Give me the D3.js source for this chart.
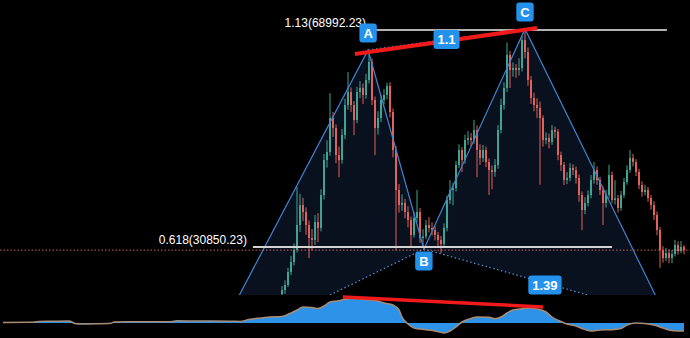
<!DOCTYPE html>
<html>
<head>
<meta charset="utf-8">
<script src="https://cdn.jsdelivr.net/npm/d3@7"></script>
<style>
  body { margin: 0; background: #000; }
  svg { display: block; }
</style>
</head>
<body>
<svg id="chart"></svg>
<script>
// prices in thousands of USD, one candle per bar starting at firstCandleBar
const firstCandleBar = 93;
const firstOpen = 22.6;
const closes = [
  23.29, 24.17, 26.46, 28.21, 30.32, 34.72, 38.23, 37.0, 34.72, 32.43,
  32.08, 35.24, 34.19, 39.99, 46.14, 47.55, 53.52, 51.77, 47.02, 46.14,
  50.54, 55.81, 58.09, 55.81, 53.17, 58.09, 58.8, 57.57, 60.2, 63.37,
  56.69, 51.77, 53.52, 56.69, 57.57, 59.15, 54.58, 47.9, 40.87, 38.23,
  38.6, 37.0, 35.6, 32.96, 35.95, 37.0, 32.43, 32.7, 34.72, 34.19,
  33.84, 32.96, 32.08, 31.38, 34.19, 39.11, 40.87, 41.22, 45.26, 47.9,
  46.14, 49.66, 50.01, 49.66, 51.42, 47.9, 46.49, 47.9, 45.79, 44.38,
  44.03, 45.26, 51.42, 55.81, 58.8, 64.6, 61.96, 62.31, 61.96, 62.31,
  67.23, 65.13, 60.2, 57.04, 55.81, 55.28, 53.52, 49.66, 50.01, 49.31,
  51.42, 51.1, 47.02, 45.26, 42.63, 42.98, 44.74, 44.38, 42.98, 39.99,
  37.35, 38.58, 39.99, 42.63, 44.38, 42.63, 40.87, 38.58, 39.99, 43.51,
  39.11, 39.4, 37.71, 39.99, 42.28, 44.38, 46.49, 45.79, 44.03, 41.75,
  40.52, 40.87, 39.46, 38.23, 36.47, 33.84, 30.32, 28.92, 29.8, 28.92,
  29.62, 31.2, 30.15, 30.85, 30.3
];
const highs = [
  24.0, 25.0, 27.2, 29.3, 31.5, 41.4, 40.2, 39.5, 37.8, 35.5,
  34.0, 36.5, 36.8, 41.0, 47.2, 49.6, 57.9, 54.6, 52.4, 48.5,
  51.6, 56.9, 61.6, 58.9, 56.5, 59.0, 60.0, 59.6, 61.3, 65.5,
  64.0, 57.3, 54.7, 57.6, 58.6, 59.7, 59.8, 55.2, 48.6, 41.9,
  40.1, 39.3, 38.0, 36.2, 37.0, 40.9, 37.7, 34.0, 35.6, 36.1,
  35.2, 34.6, 33.5, 32.8, 35.0, 39.9, 42.6, 42.1, 46.0, 48.9,
  48.4, 50.6, 51.2, 50.9, 53.2, 52.2, 48.9, 48.8, 48.5, 46.4,
  45.2, 46.3, 52.3, 56.9, 59.8, 66.8, 65.3, 63.3, 63.0, 64.0,
  68.0, 69.0, 65.9, 60.9, 58.0, 57.0, 56.4, 54.0, 51.0, 50.8,
  52.3, 52.0, 51.6, 47.6, 45.8, 44.0, 45.6, 45.4, 45.0, 43.6,
  40.6, 39.6, 40.8, 43.5, 45.8, 45.0, 43.2, 41.5, 40.9, 45.3,
  44.1, 42.6, 40.0, 40.7, 43.0, 45.2, 47.9, 47.2, 46.3, 44.6,
  42.4, 41.8, 41.4, 40.0, 38.9, 37.1, 34.4, 31.0, 30.7, 30.4,
  30.3, 32.1, 31.8, 31.9, 31.2
];
const lows = [
  21.9, 22.6, 23.8, 25.9, 27.6, 29.9, 33.5, 35.4, 33.0, 28.9,
  30.3, 31.2, 31.7, 33.6, 39.2, 44.8, 46.9, 50.2, 45.6, 43.1,
  45.5, 49.8, 55.0, 54.6, 50.5, 52.6, 57.0, 56.0, 56.9, 59.6,
  55.8, 47.0, 50.6, 52.8, 55.9, 56.8, 53.6, 46.6, 30.3, 36.9,
  37.2, 35.9, 34.3, 30.7, 32.5, 35.2, 31.6, 30.7, 32.2, 33.4,
  32.9, 32.0, 31.0, 29.8, 30.8, 33.6, 38.4, 38.2, 40.6, 44.7,
  44.0, 45.5, 48.8, 48.6, 49.0, 43.1, 45.3, 45.8, 44.9, 40.0,
  41.0, 43.2, 44.6, 50.8, 55.0, 58.1, 58.8, 60.8, 60.6, 61.0,
  61.7, 64.0, 59.2, 56.0, 54.7, 53.5, 41.8, 48.5, 48.9, 48.2,
  48.8, 50.0, 46.1, 44.2, 41.75, 41.9, 42.4, 43.5, 42.0, 38.8,
  33.8, 36.6, 38.0, 39.4, 42.0, 41.8, 40.0, 34.7, 37.8, 39.4,
  38.5, 38.3, 36.9, 37.2, 39.5, 41.8, 43.9, 45.0, 43.3, 41.0,
  39.7, 39.9, 38.8, 37.4, 35.6, 32.9, 27.2, 28.1, 28.4, 28.0,
  28.0, 29.2, 29.5, 29.8, 29.6
];

// lower oscillator pane
const oscBars = [
  0, 9, 12, 16, 22, 24, 26, 31, 36, 37, 42, 56, 58, 62, 76, 79, 82, 86, 89, 93,
  96, 98, 100, 103, 105, 107, 109, 112, 114, 116, 119, 122, 125, 127, 130, 132, 133, 135, 137, 141,
  144, 147, 149, 151, 153, 156, 158, 162, 164, 166, 168, 170, 173, 176, 178, 181, 183, 186, 188, 191,
  193, 196, 199, 203, 206, 208, 211, 214, 217, 220, 222, 225, 227
];
const oscValues = [
  50, 70, 150, 170, 200, -50, -100, -80, -30, 100, 130, 130, 220, 200, 180, 150, 350, 500, 600, 650,
  1000, 1300, 1600, 1550, 1450, 1700, 2100, 2230, 2370, 2450, 2400, 2300, 2200, 2000, 1800, 1300, 600, -100, -500, -670,
  -800, -1000, -800, -400, 100, 450, 600, 570, 430, 600, 1000, 1300, 1430, 1500, 1400, 1100, 600, 150, -100, -300,
  -550, -800, -700, -670, -550, -200, 0, -50, -200, -500, -700, -800, -800
];

// XABCD pattern (X and D sit below the visible pane)
const patternNames = ["X", "A", "B", "C", "D"];
const patternBars = [68.3, 121.7, 140.3, 174, 221];
const patternPrices = [11.87, 65.48, 30.5, 69.17, 18.55];
const ratioLabels = ["1.1", "1.39"]; // on A-C and B-D

// fib levels
const fibNames = ["0.618", "1.13"];
const fibPrices = [30850.23, 68992.23];
const fibStartBars = [83.3, 123];
const fibEndBars = [203, 221.3];

// hand drawn red lines
const trendBars = [117.3, 178];
const trendPrices = [64.77, 69.34];
const divBars = [113.3, 180];
const divValues = [2600, 1600];

const width = 690;
const height = 338;
const paneBottom = 295;

const svg = d3.select("#chart").attr("width", width).attr("height", height);
svg.append("rect").attr("width", width).attr("height", height).attr("fill", "#000");

const xScale = d3.scaleLinear().domain([0, 227]).range([3, 684]);
const yScale = d3.scaleLinear().domain([30.85023, 68.99223]).range([247, 30]);
const oscScale = d3.scaleLinear().domain([-1000, 1000]).range([333, 313]);

svg.append("clipPath").attr("id", "mainClip")
  .append("rect").attr("x", 0).attr("y", 0).attr("width", width).attr("height", paneBottom);

const main = svg.append("g").attr("clip-path", "url(#mainClip)");

const pts = patternBars.map(function (b, i) {
  return [xScale(b), yScale(patternPrices[i])];
});

// filled triangles XAB and BCD
main.append("path")
  .attr("d", "M" + [pts[0], pts[1], pts[2]].join("L") + "Z")
  .attr("fill", "#0a111e");
main.append("path")
  .attr("d", "M" + [pts[2], pts[3], pts[4]].join("L") + "Z")
  .attr("fill", "#0a111e");

// candles
const candles = closes.map(function (c, i) {
  return {
    bar: firstCandleBar + i,
    open: i === 0 ? firstOpen : closes[i - 1],
    high: highs[i],
    low: lows[i],
    close: c
  };
});

const candleG = main.selectAll(".candle").data(candles).enter().append("g").attr("class", "candle");
candleG.append("line")
  .attr("x1", function (d) { return xScale(d.bar); })
  .attr("x2", function (d) { return xScale(d.bar); })
  .attr("y1", function (d) { return yScale(d.high); })
  .attr("y2", function (d) { return yScale(d.low); })
  .attr("stroke", function (d) { return d.close >= d.open ? "#3fa592" : "#e0625d"; })
  .attr("stroke-width", 1);
candleG.append("rect")
  .attr("x", function (d) { return xScale(d.bar) - 1; })
  .attr("width", 2)
  .attr("y", function (d) { return yScale(Math.max(d.open, d.close)); })
  .attr("height", function (d) {
    return Math.max(1, Math.abs(yScale(d.open) - yScale(d.close)));
  })
  .attr("fill", function (d) { return d.close >= d.open ? "#3fa592" : "#e0625d"; });

// pattern legs
main.append("path")
  .attr("d", "M" + pts.join("L"))
  .attr("fill", "none")
  .attr("stroke", "#4381cf")
  .attr("stroke-width", 1.2);

const dotted = [[0, 2], [1, 3], [2, 4]];
dotted.forEach(function (p) {
  main.append("line")
    .attr("x1", pts[p[0]][0]).attr("y1", pts[p[0]][1])
    .attr("x2", pts[p[1]][0]).attr("y2", pts[p[1]][1])
    .attr("stroke", "#5d8fd4")
    .attr("stroke-width", 1.2)
    .attr("stroke-dasharray", "1.5,2.5");
});

// last price line
const lastY = yScale(closes[closes.length - 1]);
svg.append("line")
  .attr("x1", 0).attr("x2", width)
  .attr("y1", lastY).attr("y2", lastY)
  .attr("stroke", "#c8605f")
  .attr("stroke-width", 1)
  .attr("stroke-dasharray", "1.5,2");

// fib levels
fibPrices.forEach(function (p, i) {
  const yy = yScale(p / 1000);
  const x1 = xScale(fibStartBars[i]);
  main.append("line")
    .attr("x1", x1).attr("x2", xScale(fibEndBars[i]))
    .attr("y1", yy).attr("y2", yy)
    .attr("stroke", i === 0 ? "#d2d2d2" : "#ececec")
    .attr("stroke-width", i === 0 ? 2 : 1.5);
  main.append("text")
    .attr("x", x1 - 6)
    .attr("y", yy - 3)
    .attr("text-anchor", "end")
    .attr("fill", "#fff")
    .style("font", "12px 'Liberation Sans', Arial, sans-serif")
    .text(fibNames[i] + "(" + p.toFixed(2) + ")");
});

// red trend line A-C
main.append("line")
  .attr("x1", xScale(trendBars[0])).attr("y1", yScale(trendPrices[0]))
  .attr("x2", xScale(trendBars[1])).attr("y2", yScale(trendPrices[1]))
  .attr("stroke", "#f01a1a")
  .attr("stroke-width", 4);

function badge(cx, cy, txt, size) {
  const g = main.append("g");
  const t = g.append("text")
    .attr("x", cx).attr("y", cy)
    .attr("text-anchor", "middle")
    .attr("dy", "0.36em")
    .attr("fill", "#fff")
    .style("font", "bold " + size + "px 'Liberation Sans', Arial, sans-serif")
    .text(txt);
  const w = t.node().getComputedTextLength() + 8;
  const h = size + 6;
  g.insert("rect", "text")
    .attr("x", cx - w / 2).attr("y", cy - h / 2)
    .attr("width", w).attr("height", h)
    .attr("rx", 3)
    .attr("fill", "#2492ec");
}

// point labels, only those inside the price pane
patternNames.forEach(function (n, i) {
  const above = i % 2 === 1;
  const cy = pts[i][1] + (above ? -17 : 12);
  if (cy + 10 < paneBottom) badge(pts[i][0], cy, n, 13);
});

// ratio labels at leg midpoints
badge((pts[1][0] + pts[3][0]) / 2, (pts[1][1] + pts[3][1]) / 2, ratioLabels[0], 13);
badge((pts[2][0] + pts[4][0]) / 2, (pts[2][1] + pts[4][1]) / 2 + 2, ratioLabels[1], 13);

// oscillator
const osc = oscBars.map(function (b, i) { return { bar: b, value: oscValues[i] }; });
svg.append("path")
  .datum(osc)
  .attr("fill", "#2d93e8")
  .attr("d", d3.area()
    .x(function (d) { return xScale(d.bar); })
    .y0(oscScale(0))
    .y1(function (d) { return oscScale(d.value); })
    .curve(d3.curveMonotoneX));
svg.append("path")
  .datum(osc)
  .attr("fill", "none")
  .attr("stroke", "#a88c76")
  .attr("stroke-width", 1.5)
  .attr("d", d3.line()
    .x(function (d) { return xScale(d.bar); })
    .y(function (d) { return oscScale(d.value); })
    .curve(d3.curveMonotoneX));

svg.append("line")
  .attr("x1", xScale(divBars[0])).attr("y1", oscScale(divValues[0]))
  .attr("x2", xScale(divBars[1])).attr("y2", oscScale(divValues[1]))
  .attr("stroke", "#f01a1a")
  .attr("stroke-width", 3.5);
</script>
</body>
</html>
